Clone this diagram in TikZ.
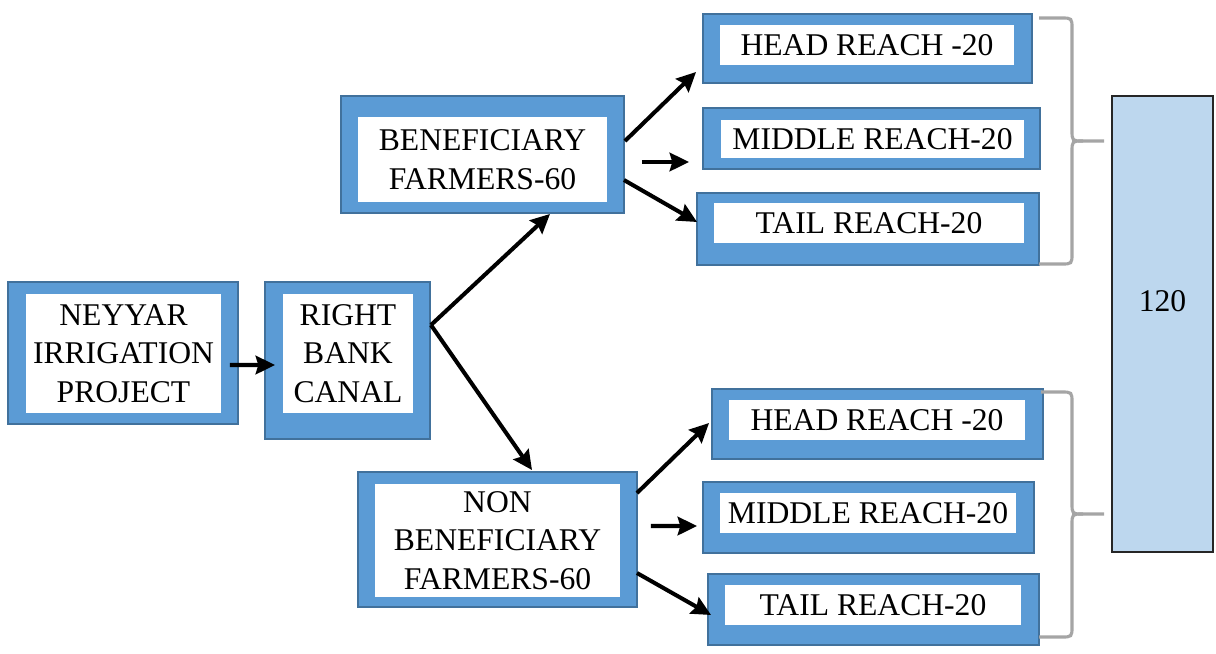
\documentclass[tikz,border=0pt]{standalone}
\usepackage{fontspec}
\setmainfont{Liberation Serif}
\usetikzlibrary{arrows.meta,calc}
\definecolor{boxblue}{HTML}{5B9BD5}
\definecolor{boxedge}{HTML}{41719C}
\definecolor{lightblue}{HTML}{BDD7EE}
\definecolor{bracegray}{HTML}{A5A5A5}
\begin{document}
\begin{tikzpicture}[x=0.02cm,y=-0.02cm,
  outerbox/.style 2 args={draw=boxedge, line width=1.1pt, fill=boxblue,
    minimum width=#1*0.02cm, minimum height=#2*0.02cm, inner sep=0pt},
  innerbox/.style 2 args={fill=white, minimum width=#1*0.02cm,
    minimum height=#2*0.02cm, inner sep=0pt, align=center,
    font=\fontsize{18}{22}\selectfont},
  arr/.style={draw=black, line width=2.3pt,
    -{Stealth[length=11pt,width=10.5pt,inset=1.5pt]}},
  bracestyle/.style={draw=bracegray, line width=1.8pt}]
\useasboundingbox (0,0) rectangle (1216,653);

% left boxes
\node[outerbox={230}{142}] (n1) at (123,353) {};
\node[innerbox={195}{119}] (n1t) at (123.5,353.5) {NEYYAR\\IRRIGATION\\PROJECT};
\node[outerbox={165}{157}] (rbc) at (347.5,360.5) {};
\node[innerbox={130}{119}] (rbct) at (348,353.5) {RIGHT\\BANK\\CANAL};

% middle boxes
\node[outerbox={283}{117}] (ben) at (482.5,154.5) {};
\node[innerbox={249}{85}] (bent) at (482.5,159.5) {BENEFICIARY\\FARMERS-60};
\node[outerbox={279}{135}] (non) at (497.5,539.5) {};
\node[innerbox={245}{113}] (nont) at (497.5,540.5) {NON\\BENEFICIARY\\FARMERS-60};

% right boxes (top group)
\node[outerbox={329}{69}] (h1) at (867.5,48.5) {};
\node[innerbox={294}{40}] (h1t) at (867,45) {HEAD REACH -20};
\node[outerbox={337}{61}] (m1) at (871.5,138.5) {};
\node[innerbox={303}{38}] (m1t) at (872.5,139) {MIDDLE REACH-20};
\node[outerbox={342}{72}] (t1) at (868,229) {};
\node[innerbox={310}{40}] (t1t) at (869,223) {TAIL REACH-20};

% right boxes (bottom group)
\node[outerbox={331}{70}] (h2) at (877.5,424) {};
\node[innerbox={296}{40}] (h2t) at (877,420) {HEAD REACH -20};
\node[outerbox={331}{71}] (m2) at (868.5,517.5) {};
\node[innerbox={296}{40}] (m2t) at (868,513) {MIDDLE REACH-20};
\node[outerbox={331}{71}] (t2) at (873.5,609.5) {};
\node[innerbox={296}{40}] (t2t) at (873,605) {TAIL REACH-20};

% total box
\node[draw=black!85, line width=0.8pt, fill=lightblue, minimum width=101*0.02cm,
  minimum height=456*0.02cm, inner sep=0pt] (tot) at (1162.5,324) {};
\node[font=\fontsize{18}{22}\selectfont, inner sep=0pt] (totl) at (1162.5,301) {120};

% arrows
\draw[arr] ([shift={(-9,12)}]n1.east) -- ([shift={(11,4.5)}]rbc.west);
\draw[arr] ([shift={(0,-35.5)}]rbc.east) -- ([shift={(67.5,0)}]ben.south);
\draw[arr] ([shift={(0,-35.5)}]rbc.east) -- ([shift={(34.5,-1)}]non.north);
\draw[arr] ([shift={(0,-13.5)}]ben.east) -- ([shift={(-6,23.5)}]h1.west);
\draw[arr] ([shift={(17,7.5)}]ben.east) -- ([shift={(-13,23.5)}]m1.west);
\draw[arr] ([shift={(-1,25.5)}]ben.east) -- ([shift={(1,-7)}]t1.west);
\draw[arr] ([shift={(-1,-46.5)}]non.east) -- ([shift={(-2,-1)}]h2.west);
\draw[arr] ([shift={(13,-13.5)}]non.east) -- ([shift={(-5,8.5)}]m2.west);
\draw[arr] ([shift={(-1,33.5)}]non.east) -- ([shift={(4,5.5)}]t2.west);

% braces
\draw[bracestyle] (1039,18) -- (1061,18) .. controls (1072,18) .. (1072,29)
  -- (1072,130) .. controls (1072,141) .. (1083,141) -- (1104,141);
\draw[bracestyle] (1083,141) .. controls (1072,141) .. (1072,152)
  -- (1072,253) .. controls (1072,264) .. (1061,264) -- (1039,264);
\draw[bracestyle] (1041,392) -- (1061,392) .. controls (1072,392) .. (1072,403)
  -- (1072,503) .. controls (1072,514) .. (1083,514) -- (1104,514);
\draw[bracestyle] (1083,514) .. controls (1072,514) .. (1072,525)
  -- (1072,626) .. controls (1072,637) .. (1061,637) -- (1039,637);
\end{tikzpicture}
\end{document}
